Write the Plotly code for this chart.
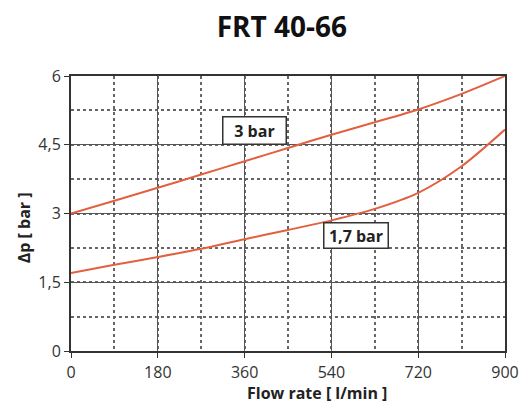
import plotly.graph_objects as go

flow = [0, 90, 180, 270, 360, 450, 540, 630, 720, 810, 900]
dp_3bar = [3.0, 3.28, 3.56, 3.85, 4.14, 4.43, 4.72, 4.99, 5.27, 5.61, 6.0]
dp_17bar = [1.7, 1.88, 2.05, 2.23, 2.44, 2.64, 2.85, 3.1, 3.45, 4.03, 4.83]

x_ticks = [0, 180, 360, 540, 720, 900]
x_ticktext = ["0", "180", "360", "540", "720", "900"]
y_ticks = [0, 1.5, 3, 4.5, 6]
y_ticktext = ["0", "1,5", "3", "4,5", "6"]

labels = ["3 bar", "1,7 bar"]
label_x = [381, 592]
label_y = [4.81, 2.52]
label_w = [56, 57]
label_h = [20, 18]

line_color = "#E2603F"
font_family = "Open Sans, Lato, Liberation Sans, sans-serif"

fig = go.Figure()
for ys in (dp_3bar, dp_17bar):
    fig.add_trace(go.Scatter(x=flow, y=ys, mode="lines",
                             line=dict(color=line_color, width=2, shape="spline", smoothing=0.8),
                             showlegend=False, hoverinfo="skip"))

for t, lx, ly, w, h in zip(labels, label_x, label_y, label_w, label_h):
    fig.add_annotation(x=lx, y=ly, text="<b>" + t + "</b>", showarrow=False,
                       width=w, height=h,
                       font=dict(family=font_family, size=16, color="#222"),
                       bgcolor="white", bordercolor="#333", borderwidth=1.5, borderpad=3)

# axis titles
fig.add_annotation(xref="paper", yref="paper", x=0.567, y=-0.152, yanchor="middle", xanchor="center",
                   text="<b>Flow rate [ l/min ]</b>", showarrow=False,
                   font=dict(family=font_family, size=16, color="#222"))
fig.add_annotation(xref="paper", yref="paper", x=-0.108, y=0.447, xanchor="center", yanchor="middle",
                   text="<b>Δp [ bar ]</b>", showarrow=False, textangle=-90,
                   font=dict(family=font_family, size=16, color="#222"))

axis_common = dict(
    showline=True, linecolor="#333", linewidth=2, mirror=True,
    showgrid=True, gridcolor="#555", gridwidth=1,
    ticks="outside", ticklen=5, tickcolor="#333",
    tickfont=dict(family=font_family, size=16, color="#333"),
    zeroline=False, automargin=False, ticklabeloverflow="allow",
)

fig.update_xaxes(range=[0, 900], tickvals=x_ticks, ticktext=x_ticktext, ticklabelstandoff=1,
                 minor=dict(dtick=90, tick0=0, showgrid=True, griddash="dot", gridcolor="#666", gridwidth=1.5, ticks=""),
                 **axis_common)
fig.update_yaxes(range=[0, 6], tickvals=y_ticks, ticktext=y_ticktext,
                 minor=dict(dtick=0.75, tick0=0, showgrid=True, griddash="dot", gridcolor="#666", gridwidth=1.5, ticks=""),
                 **axis_common)

fig.update_layout(
    width=524, height=403,
    margin=dict(l=71, r=19, t=76, b=52, autoexpand=False),
    paper_bgcolor="white", plot_bgcolor="white",
    title=dict(text="<b>FRT 40-66</b>", x=0.538, xanchor="center", y=0.933, yanchor="middle",
               font=dict(family=font_family, size=28, color="#111")),
)

fig.write_html("out.html", config={"displayModeBar": False},
               post_script="document.body.style.margin='0';")
